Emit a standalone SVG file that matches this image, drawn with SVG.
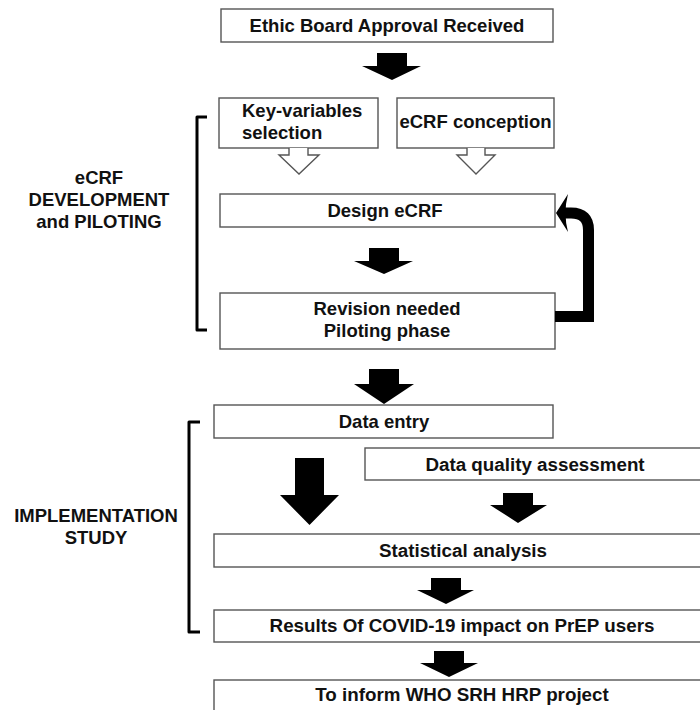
<svg xmlns="http://www.w3.org/2000/svg" width="700" height="710" viewBox="0 0 700 710">
<style>
.box{fill:#fff;stroke:#555;stroke-width:1.4}
.t{font-family:"Liberation Sans",Arial,sans-serif;font-weight:bold;font-size:18.5px;fill:#111}
.b{font-size:18.8px}
.c{text-anchor:middle}
.blk{fill:#000}
.hol{fill:#fff;stroke:#555;stroke-width:1.4}
.br{fill:none;stroke:#000;stroke-width:3;stroke-linejoin:round}
</style>
<rect width="700" height="710" fill="#fff"/>
<g id="label-ecrf">
<text class="t c" x="99" y="184">eCRF</text>
<text class="t c" x="99" y="206">DEVELOPMENT</text>
<text class="t c" x="99" y="228">and PILOTING</text>
</g>
<g id="label-impl">
<text class="t c" x="96" y="522">IMPLEMENTATION</text>
<text class="t c" x="96" y="544">STUDY</text>
</g>
<g id="brackets">
<path class="br" d="M207,117 H197 V330 H207"/>
<path class="br" d="M200,422 H189 V632 H200"/>
</g>
<g id="n-ethic">
<rect class="box" x="221" y="9" width="332" height="33"/>
<text class="t c" x="387" y="32">Ethic Board Approval Received</text>
</g>
<g id="n-key">
<rect class="box" x="219" y="98" width="159" height="50"/>
<text class="t" x="242" y="117">Key-variables</text>
<text class="t" x="242" y="139">selection</text>
</g>
<g id="n-conception">
<rect class="box" x="397" y="98" width="157" height="50"/>
<text class="t c" x="475.5" y="128">eCRF conception</text>
</g>
<g id="n-design">
<rect class="box" x="220" y="194" width="335" height="33"/>
<text class="t c" x="385" y="217">Design eCRF</text>
</g>
<g id="n-revision">
<rect class="box" x="220" y="293" width="335" height="56"/>
<text class="t c" x="387" y="315">Revision needed</text>
<text class="t c" x="387" y="337">Piloting phase</text>
</g>
<g id="n-entry">
<rect class="box" x="214" y="405" width="339" height="33"/>
<text class="t c" x="384" y="428">Data entry</text>
</g>
<g id="n-quality">
<rect class="box" x="365" y="448" width="345" height="32"/>
<text class="t b c" x="535" y="471">Data quality assessment</text>
</g>
<g id="n-stats">
<rect class="box" x="214" y="534" width="498" height="33"/>
<text class="t b c" x="463" y="557">Statistical analysis</text>
</g>
<g id="n-results">
<rect class="box" x="214" y="610" width="498" height="32"/>
<text class="t b c" x="462" y="632">Results Of COVID-19 impact on PrEP users</text>
</g>
<g id="n-inform">
<rect class="box" x="214" y="680" width="498" height="40"/>
<text class="t b c" x="462" y="701">To inform WHO SRH HRP project</text>
</g>
<g id="connectors">
<polygon class="blk" points="377,53 407,53 407,66 421,66 392,80 362,66 377,66"/>
<path class="hol" d="M289,148 V155 H279 L299,174 L319,155 H308 V148"/>
<path class="hol" d="M467,148 V155 H457 L476,174 L495,155 H485 V148"/>
<polygon class="blk" points="369,248 399,248 399,261 413,261 384,274 354,261 369,261"/>
<path d="M555,316.5 H588.5 V230 Q588.5,213 571,213 H564" fill="none" stroke="#000" stroke-width="11"/>
<path class="blk" d="M556,213 L568,194 Q563,213 568,232 Z"/>
<polygon class="blk" points="369,369 399,369 399,384 414,384 384,404 354,384 369,384"/>
<polygon class="blk" points="295,458 324,458 324,495 339,495 309.5,525 280,495 295,495"/>
<polygon class="blk" points="503,493 533,493 533,505 547,505 518,523 490,505 503,505"/>
<polygon class="blk" points="431,578 461,578 461,590 474,590 446,604 417,590 431,590"/>
<polygon class="blk" points="434,651 464,651 464,663 478,663 449,677 420,663 434,663"/>
</g>
</svg>
